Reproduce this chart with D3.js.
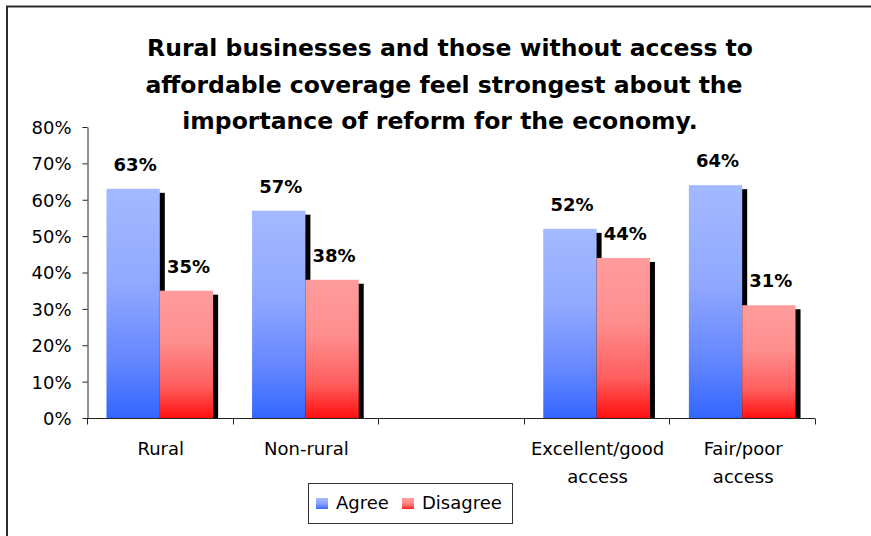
<!DOCTYPE html>
<html>
<head>
<meta charset="utf-8">
<script src="https://cdn.jsdelivr.net/npm/d3@7"></script>
<style>
  body { margin: 0; background: #fff; }
  svg { display: block; font-family: "DejaVu Sans", "Liberation Sans", Arial, sans-serif; }
</style>
</head>
<body>
<svg id="chart" width="871" height="536"></svg>
<script>
// Survey results: share of businesses agreeing / disagreeing
const categories = ["Rural", "Non-rural", " ", "Excellent/good access", "Fair/poor access"];
const categoryLines = [["Rural"], ["Non-rural"], [], ["Excellent/good", "access"], ["Fair/poor", "access"]];
const seriesNames = ["Agree", "Disagree"];
const agree = [0.63, 0.57, null, 0.52, 0.64];
const disagree = [0.35, 0.38, null, 0.44, 0.31];
const yTicks = [0, 0.1, 0.2, 0.3, 0.4, 0.5, 0.6, 0.7, 0.8];
const titleLines = [
  "Rural businesses and those without access to",
  "affordable coverage feel strongest about the",
  "importance of reform for the economy."
];

const svg = d3.select("#chart");
const plotLeft = 87, plotRight = 815, plotTop = 127, plotBottom = 418;

// Outer frame (top and left edges)
svg.append("path")
  .attr("d", "M7,536 V6.5 H871")
  .attr("fill", "none").attr("stroke", "#2b2b2b").attr("stroke-width", 2);

// Gradients for the two series
const defs = svg.append("defs");
const gradStops = {
  Agree: [["0%", "#A3B9FF"], ["40%", "#92AAFF"], ["75%", "#6587FF"], ["100%", "#3366FF"]],
  Disagree: [["0%", "#FF9C9C"], ["40%", "#FF8E8E"], ["75%", "#FF5E5E"], ["100%", "#FF1010"]]
};
seriesNames.forEach(name => {
  const g = defs.append("linearGradient").attr("id", "grad-" + name)
    .attr("x1", 0).attr("y1", 0).attr("x2", 0).attr("y2", 1);
  gradStops[name].forEach(([o, c]) => g.append("stop").attr("offset", o).attr("stop-color", c));
});

const x = d3.scaleBand().domain(categories).range([plotLeft, plotRight]).paddingInner(0).paddingOuter(0);
const sub = d3.scaleBand().domain(seriesNames).range([0, x.bandwidth()]).paddingInner(0).paddingOuter(0.365);
const y = d3.scaleLinear().domain([0, 0.8]).range([plotBottom, plotTop]);

// Title
const title = svg.append("text")
  .attr("text-anchor", "middle")
  .attr("font-weight", "bold").attr("font-size", "23.5px").attr("fill", "#000");
const titleX = [450, 444, 440];
titleLines.forEach((line, i) => {
  title.append("tspan").attr("x", titleX[i]).attr("y", 56 + i * 36.5).text(line);
});

// Bars with drop shadows
const rows = categories.map((c, i) => ({ cat: c, values: [agree[i], disagree[i]] }));
const groups = svg.append("g").selectAll("g").data(rows).join("g")
  .attr("transform", d => `translate(${x(d.cat)},0)`);

groups.each(function(d) {
  const g = d3.select(this);
  d.values.forEach((v, j) => {
    if (v == null) return;
    const name = seriesNames[j];
    const bx = sub(name), bw = sub.bandwidth();
    g.append("rect")
      .attr("x", bx + 5).attr("y", y(v) + 4)
      .attr("width", bw).attr("height", plotBottom - y(v) - 4)
      .attr("fill", "#000");
    g.append("rect")
      .attr("x", bx).attr("y", y(v))
      .attr("width", bw).attr("height", plotBottom - y(v))
      .attr("fill", `url(#grad-${name})`);
    g.append("text")
      .attr("x", bx + bw / 2 + 2).attr("y", y(v) - 18)
      .attr("text-anchor", "middle")
      .attr("font-weight", "bold").attr("font-size", "18px")
      .text(d3.format(".0%")(v));
  });
});

// Y axis
const yAxis = svg.append("g").attr("transform", `translate(${plotLeft + 0.5},0)`)
  .call(d3.axisLeft(y).tickValues(yTicks).tickFormat(d3.format(".0%")).tickSize(5).tickPadding(11).tickSizeOuter(0));
yAxis.select(".domain").attr("stroke", "#222");
yAxis.selectAll(".tick line").attr("stroke", "#222");
yAxis.selectAll(".tick text").attr("font-size", "18px").attr("fill", "#000")
  .attr("font-family", "DejaVu Sans, sans-serif").attr("dy", "0.36em");

// X axis with ticks at category boundaries
const xAxisG = svg.append("g").attr("transform", `translate(0,${plotBottom + 0.5})`);
xAxisG.append("line").attr("x1", plotLeft).attr("x2", plotRight).attr("stroke", "#222");
const boundaries = categories.map(c => x(c)).concat([plotRight]);
xAxisG.selectAll("line.tk").data(boundaries).join("line").attr("class", "tk")
  .attr("x1", d => Math.round(d) + 0.5).attr("x2", d => Math.round(d) + 0.5)
  .attr("y1", 0).attr("y2", 6).attr("stroke", "#222");

// Category labels
categories.forEach((c, i) => {
  const t = svg.append("text").attr("text-anchor", "middle")
    .attr("font-size", "18px").attr("fill", "#000");
  categoryLines[i].forEach((line, k) => {
    t.append("tspan").attr("x", x(c) + x.bandwidth() / 2 + 1).attr("y", 455 + k * 28).text(line);
  });
});

// Legend
const legend = svg.append("g");
legend.append("rect").attr("x", 308.5).attr("y", 483.5).attr("width", 204).attr("height", 40)
  .attr("fill", "#fff").attr("stroke", "#333").attr("stroke-width", 1);
const legendX = [316, 402];
seriesNames.forEach((name, i) => {
  legend.append("rect").attr("x", legendX[i]).attr("y", 498).attr("width", 12).attr("height", 11)
    .attr("fill", `url(#grad-${name})`);
  legend.append("text").attr("x", legendX[i] + 20).attr("y", 508.5)
    .attr("font-size", "18px").attr("fill", "#000").text(name);
});
</script>
</body>
</html>
